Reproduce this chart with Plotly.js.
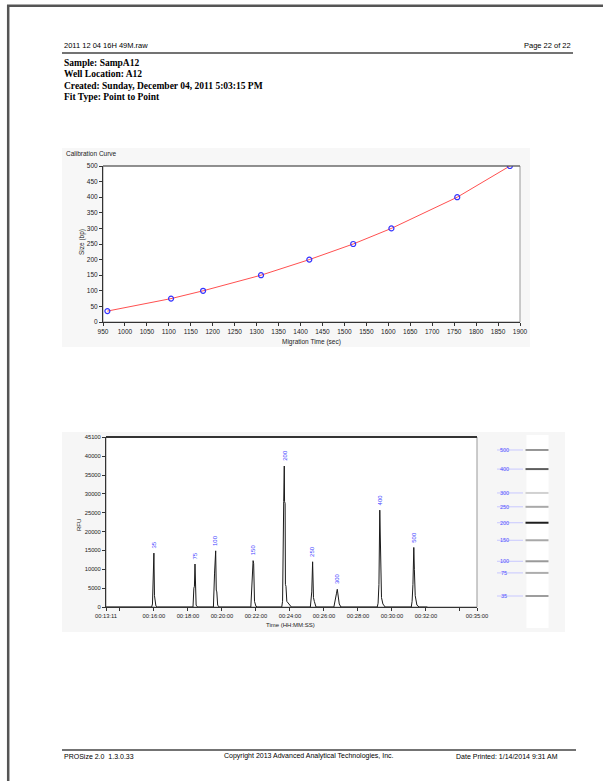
<!DOCTYPE html>
<html><head><meta charset="utf-8">
<script src="https://cdn.plot.ly/plotly-3.0.1.min.js"></script>
<style>html,body{margin:0;padding:0;background:#fff;overflow:hidden}#chart{width:603px;height:781px}</style>
</head><body><div id="chart"></div>
<script>
// ---- data ----
const sizes = [35, 75, 100, 150, 200, 250, 300, 400, 500];
const migrationTimes = [960, 1105, 1178, 1310, 1420, 1520, 1607, 1757, 1877];
const peakHeights = [14300, 11400, 14900, 12300, 37400, 12000, 4700, 25700, 15800];

const traceTime = [791,
  952, 955, 957, 960, 962, 964, 967, 972,
  1098, 1101, 1103, 1105, 1107, 1109, 1114,
  1170, 1174, 1176, 1178, 1180, 1182, 1185, 1190,
  1302, 1306, 1308, 1310, 1312, 1315, 1320, 1326,
  1411, 1414, 1418, 1420, 1421, 1423, 1424, 1426, 1429, 1435, 1445,
  1512, 1515, 1517, 1520, 1523, 1526, 1532,
  1595, 1600, 1604, 1607, 1610, 1614, 1620,
  1748, 1751, 1754, 1757, 1760, 1763, 1768, 1776,
  1868, 1871, 1874, 1877, 1879, 1882, 1888, 1896,
  1925];
const traceRFU = [0,
  0, 800, 12000, 14300, 3000, 1500, 300, 0,
  0, 5000, 5500, 11400, 4000, 500, 0,
  0, 9000, 12000, 14900, 4500, 4000, 500, 0,
  0, 7000, 12000, 12300, 11500, 1500, 200, 0,
  0, 1500, 28000, 37400, 28000, 27500, 6000, 5500, 1500, 800, 0,
  0, 4000, 4000, 12000, 2500, 1500, 0,
  0, 1500, 3500, 4700, 3000, 800, 0,
  0, 1000, 6000, 25700, 12000, 2500, 800, 0,
  0, 1500, 6000, 15800, 10000, 3000, 500, 0,
  0];

const timeTickVals = [791, 840, 960, 1080, 1200, 1320, 1440, 1560, 1680, 1800, 1920, 2040, 2100];
const timeTickText = ['00:13:11', '', '00:16:00', '00:18:00', '00:20:00', '00:22:00', '00:24:00',
  '00:26:00', '00:28:00', '00:30:00', '00:32:00', '', '00:35:00'];
const rfuTickVals = [0, 5000, 10000, 15000, 20000, 25000, 30000, 35000, 40000, 45100];

const headerLeft = '2011 12 04 16H 49M.raw';
const headerRight = 'Page 22 of 22';
const infoLines = ['Sample: SampA12', 'Well Location: A12',
  'Created: Sunday, December 04, 2011 5:03:15 PM', 'Fit Type: Point to Point'];
const footerTexts = ['PROSize 2.0  1.3.0.33', 'Copyright 2013 Advanced Analytical Technologies, Inc.',
  'Date Printed: 1/14/2014 9:31 AM'];

// ---- helpers (page pixel -> paper) ----
const W = 603, H = 781;
const px = v => v / W;
const py = v => 1 - v / H;

const SANS = 'Liberation Sans, Arial, sans-serif';
const SERIF = 'Liberation Serif, Times New Roman, serif';

function rect(x0, y0, x1, y1, fill, line) {
  return {type: 'rect', xref: 'paper', yref: 'paper', x0: px(x0), x1: px(x1), y0: py(y1), y1: py(y0),
    fillcolor: fill, line: line || {width: 0}, layer: 'below'};
}
function hline(x0, x1, y, color, w) {
  return {type: 'line', xref: 'paper', yref: 'paper', x0: px(x0), x1: px(x1), y0: py(y), y1: py(y),
    line: {color: color, width: w}};
}
function vline(x, y0, y1, color, w) {
  return {type: 'line', xref: 'paper', yref: 'paper', x0: px(x), x1: px(x), y0: py(y0), y1: py(y1),
    line: {color: color, width: w}};
}
function txt(x, y, text, opts) {
  return Object.assign({xref: 'paper', yref: 'paper', x: px(x), y: py(y), text: text, showarrow: false,
    xanchor: 'left', yanchor: 'middle', font: {family: SANS, size: 8, color: '#000'}}, opts || {});
}

// ---- traces ----
const traces = [];
traces.push({x: migrationTimes, y: sizes, xaxis: 'x', yaxis: 'y', mode: 'lines',
  line: {color: '#ff5050', width: 1}, hoverinfo: 'skip'});
traces.push({x: migrationTimes, y: sizes, xaxis: 'x', yaxis: 'y', mode: 'markers',
  marker: {symbol: 'circle-open', color: '#3333ff', size: 5, line: {width: 1.2}}});
traces.push({x: traceTime, y: traceRFU, xaxis: 'x2', yaxis: 'y2', mode: 'lines',
  line: {color: '#1a1a1a', width: 1}});

// gel lane
const maxH = Math.max(...peakHeights);
sizes.forEach((s, i) => {
  const g = Math.round(235 - peakHeights[i] / maxH * 205);
  traces.push({x: [7, 33], y: [migrationTimes[i], migrationTimes[i]], xaxis: 'x3', yaxis: 'y3',
    mode: 'lines', line: {color: '#c8c8ff', width: 1}});
  traces.push({x: [35.5, 58.5], y: [migrationTimes[i], migrationTimes[i]], xaxis: 'x3', yaxis: 'y3',
    mode: 'lines', line: {color: `rgb(${g},${g},${g})`, width: 2}});
});

// ---- annotations ----
const ann = [];
ann.push(txt(62, 46, headerLeft, {font: {family: SANS, size: 7.5, color: '#000'}}));
ann.push(txt(573, 46, headerRight, {xanchor: 'right', font: {family: SANS, size: 7.5, color: '#000'}}));
infoLines.forEach((t, i) => {
  const k = t.indexOf(':');
  ann.push(txt(62, 63 + i * 11.3, '<b>' + t.slice(0, k + 1) + '</b><b>' + t.slice(k + 1) + '</b>',
    {font: {family: SERIF, size: 9.5, color: '#000'}}));
});
ann.push(txt(62, 756, footerTexts[0], {font: {family: SANS, size: 7, color: '#000'}}));
ann.push(txt(222, 756, footerTexts[1], {font: {family: SANS, size: 7, color: '#000'}}));
ann.push(txt(454, 756, footerTexts[2], {font: {family: SANS, size: 7, color: '#000'}}));

// calibration chart titles
ann.push(txt(64, 153, 'Calibration Curve', {font: {family: SANS, size: 6.5, color: '#222'}}));
ann.push(txt(82, 242, 'Size (bp)', {xanchor: 'center', textangle: -90, font: {family: SANS, size: 6.5, color: '#222'}}));
ann.push(txt(311, 342, 'Migration Time (sec)', {xanchor: 'center', font: {family: SANS, size: 6.5, color: '#222'}}));

// electropherogram titles
ann.push(txt(79, 525, 'RFU', {xanchor: 'center', textangle: -90, font: {family: SANS, size: 6, color: '#222'}}));
ann.push(txt(290, 625, 'Time (HH:MM:SS)', {xanchor: 'center', font: {family: SANS, size: 6, color: '#222'}}));

// peak labels
sizes.forEach((s, i) => {
  ann.push({xref: 'x2', yref: 'y2', x: migrationTimes[i], y: peakHeights[i], text: String(s),
    showarrow: false, textangle: -90, xanchor: 'center', yanchor: 'bottom', yshift: 3,
    font: {family: SANS, size: 6, color: '#4646ff'}});
  ann.push({xref: 'x3', yref: 'y3', x: 14, y: migrationTimes[i], text: String(s), showarrow: false,
    xanchor: 'center', yanchor: 'middle', font: {family: SANS, size: 5.5, color: '#5050ff'}});
});

// ---- shapes ----
const shapes = [];
shapes.push(rect(62, 148, 530, 347, '#f7f7f7'));
shapes.push(rect(103, 166, 520, 322, '#ffffff', {color: '#999', width: 1}));
shapes.push(rect(62, 432, 565, 632, '#f6f6f6'));
shapes.push(rect(106, 437, 477, 607, '#ffffff', {color: '#999', width: 1}));
shapes.push(rect(526.5, 435, 548.5, 628, '#ffffff'));
shapes.push(hline(103, 520, 166, '#555', 1));
shapes.push(hline(106, 477, 437, '#333', 2));
// page border + rules
shapes.push(hline(7, 603, 5.8, '#555', 2.5));
shapes.push(vline(8.2, 5, 781, '#555', 2.5));
shapes.push(hline(62, 573, 53, '#444', 1.5));
shapes.push(hline(62, 576, 750, '#444', 1.5));

const tickFontCal = {family: SANS, size: 6.5, color: '#222'};
const tickFontEp = {family: SANS, size: 5.8, color: '#222'};

const layout = {
  width: W, height: H, autosize: false,
  margin: {l: 0, r: 0, t: 0, b: 0, pad: 0},
  paper_bgcolor: '#ffffff', plot_bgcolor: 'rgba(0,0,0,0)',
  showlegend: false,
  xaxis: {domain: [px(103), px(520)], anchor: 'y', range: [950, 1900], tickmode: 'linear', tick0: 950, dtick: 50,
    ticks: 'outside', ticklen: 3, tickcolor: '#333', showline: true, linecolor: '#333', linewidth: 1,
    showgrid: false, zeroline: false, tickfont: tickFontCal, fixedrange: true},
  yaxis: {domain: [py(322), py(166)], anchor: 'x', range: [0, 500], tickmode: 'linear', tick0: 0, dtick: 50,
    ticks: 'outside', ticklen: 3, tickcolor: '#333', showline: true, linecolor: '#333', linewidth: 1,
    showgrid: false, zeroline: false, tickfont: tickFontCal, fixedrange: true},
  xaxis2: {domain: [px(106), px(477)], anchor: 'y2', range: [791, 2100], tickmode: 'array',
    tickvals: timeTickVals, ticktext: timeTickText, tickangle: 0,
    ticks: 'outside', ticklen: 3, tickcolor: '#333', showline: true, linecolor: '#333', linewidth: 1,
    showgrid: false, zeroline: false, tickfont: tickFontEp, fixedrange: true},
  yaxis2: {domain: [py(607), py(437)], anchor: 'x2', range: [0, 45100], tickmode: 'array',
    tickvals: rfuTickVals, ticktext: rfuTickVals.map(String),
    ticks: 'outside', ticklen: 3, tickcolor: '#333', showline: true, linecolor: '#333', linewidth: 1,
    showgrid: false, zeroline: false, tickfont: tickFontEp, fixedrange: true},
  xaxis3: {domain: [px(490), px(560)], anchor: 'y3', range: [0, 70], visible: false, fixedrange: true},
  yaxis3: {domain: [py(628), py(435)], anchor: 'x3', range: [759, 1971], visible: false, fixedrange: true},
  shapes: shapes,
  annotations: ann
};

Plotly.newPlot('chart', traces, layout, {staticPlot: true, displayModeBar: false});
</script>
</body></html>
